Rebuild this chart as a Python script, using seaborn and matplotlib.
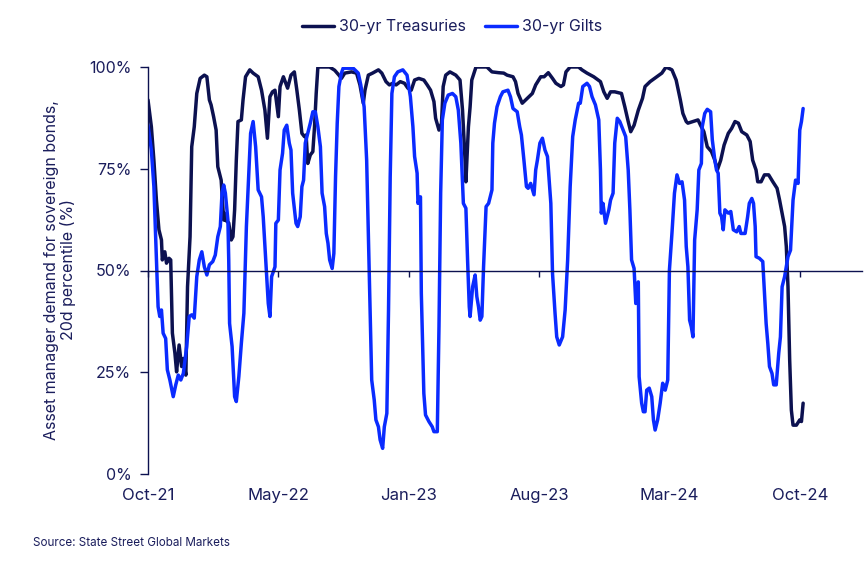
import matplotlib
matplotlib.use("Agg")
import matplotlib.pyplot as plt
import seaborn as sns
import pandas as pd

# Trading-day index (from Oct-21) and 20d percentile values (%)
tsy_day = [0, 4, 7, 10, 13, 16, 17, 20, 22, 25, 27, 29, 32, 34, 37, 40, 42, 45, 47, 50,
           52, 55, 58, 62, 67, 70, 73, 75, 78, 81, 83, 87, 90, 91, 92, 96, 99, 101, 103, 105,
           107, 111, 113, 116, 121, 125, 131, 135, 139, 142, 145, 148, 151, 155, 157, 161, 166, 170, 174, 177,
           180, 183, 186, 188, 190, 193, 196, 198, 200, 202, 216, 222, 227, 230, 234, 242, 248, 252, 256, 258,
           262, 267, 274, 278, 283, 287, 291, 295, 300, 305, 309, 313, 317, 322, 328, 332, 336, 340, 342, 346,
           349, 351, 354, 359, 366, 371, 374, 377, 378, 381, 383, 385, 390, 403, 409, 417, 423, 427, 434, 437,
           440, 445, 451, 457, 461, 467, 471, 476, 481, 485, 491, 494, 497, 502, 512, 516, 522, 530, 538, 542,
           546, 550, 555, 563, 567, 571, 574, 578, 583, 588, 591, 597, 605, 611, 616, 623, 628, 633, 636, 640,
           642, 648, 654, 657, 661, 665, 670, 674, 677, 681, 685, 690, 694, 698, 702, 706, 712, 716, 719, 723,
           725, 729, 733, 738, 743, 748, 751, 754, 757, 759, 761, 763, 765, 767, 771, 775, 777, 779]
tsy_val = [91.9, 85.3, 77.1, 67.3, 60, 57.5, 52.6, 54.6, 51.8, 53, 52.6, 34.6, 29.7, 25.1, 31.7, 26.4, 28.4, 24.3, 46, 58.3,
           80.4, 85.3, 93.5, 97.2, 98, 97.6, 91.9, 90.7, 87.8, 84.5, 75.5, 72.2, 62.4, 64.1, 62.4, 61.7, 57.5, 58.3, 64.9, 77.1,
           86.6, 87, 91.9, 97.6, 99.3, 98.5, 97.6, 94.3, 89.4, 82.5, 92.7, 93.9, 94.3, 87.8, 95.2, 97.6, 94.8, 98, 98.8, 94.3,
           89.4, 83.7, 82.9, 83.3, 76.3, 78.4, 79.2, 85.3, 93.5, 100, 100, 99.2, 98, 97.2, 98.5, 98.8, 98.5, 95.6, 91.1, 94.3,
           98, 98.5, 99.3, 98.5, 96.4, 95.6, 96, 95.6, 96.4, 96, 94.8, 94.3, 96.8, 97.2, 96.8, 95.6, 94.3, 91.5, 87.4, 84.5,
           86.2, 95.2, 98, 98.8, 98, 96.8, 89.4, 77.1, 71.8, 85.3, 90.2, 96.8, 100, 100, 98.8, 98.6, 98.5, 98, 97.6, 96.4,
           93.5, 91.1, 92.3, 93.5, 95.6, 97.6, 97.6, 98.6, 97.2, 96, 95.2, 95.6, 98.8, 100, 100, 99.3, 98.5, 97.6, 96.4, 93.9,
           92.3, 93.9, 93.9, 93.5, 90.2, 86.6, 84.1, 85.7, 89.4, 92.3, 95.2, 96.4, 97.6, 98.5, 100, 99.3, 96.8, 91.9, 88.6, 86.6,
           86.2, 86.6, 87, 85.7, 84.1, 80.4, 79.2, 77.1, 74.7, 77.1, 80.8, 83.7, 84.9, 86.6, 86.2, 84.1, 83.3, 81.7, 77.1, 74.7,
           71.8, 71.8, 73.5, 73.5, 71.8, 70.2, 67.3, 64.1, 60.8, 55.9, 46, 28, 15.7, 12, 12, 13.3, 12.9, 17.4]

gilt_day = [0, 4, 7, 10, 12, 14, 16, 18, 21, 23, 26, 30, 33, 36, 39, 42, 46, 49, 52, 55,
            58, 61, 64, 67, 70, 73, 77, 80, 83, 86, 88, 90, 92, 95, 96, 97, 100, 103, 105, 108,
            111, 114, 117, 120, 122, 125, 128, 131, 135, 137, 140, 143, 145, 147, 151, 152, 155, 157, 160, 162,
            165, 168, 170, 172, 176, 178, 181, 183, 185, 187, 190, 193, 196, 199, 202, 205, 207, 210, 212, 214,
            216, 219, 221, 223, 225, 227, 230, 232, 244, 250, 253, 257, 260, 262, 264, 266, 269, 271, 274, 276,
            279, 281, 284, 286, 288, 290, 293, 297, 303, 308, 312, 315, 317, 320, 321, 324, 325, 328, 330, 334,
            338, 340, 344, 346, 348, 350, 353, 357, 362, 366, 369, 372, 375, 378, 380, 382, 383, 386, 389, 391,
            393, 395, 397, 399, 402, 405, 409, 410, 412, 415, 419, 422, 428, 431, 434, 439, 442, 444, 447, 450,
            452, 455, 459, 461, 463, 466, 469, 472, 475, 479, 481, 484, 486, 489, 493, 496, 499, 502, 505, 508,
            512, 514, 517, 522, 525, 528, 532, 536, 538, 539, 541, 544, 548, 550, 553, 555, 558, 561, 565, 568,
            571, 573, 575, 578, 580, 583, 584, 587, 589, 591, 593, 596, 599, 601, 603, 606, 609, 612, 615, 618,
            620, 623, 626, 629, 632, 635, 638, 640, 642, 644, 646, 648, 650, 653, 655, 658, 659, 662, 665, 669,
            671, 674, 676, 678, 680, 682, 684, 686, 690, 693, 696, 700, 703, 705, 710, 713, 715, 718, 720, 722,
            723, 727, 731, 733, 735, 737, 739, 742, 744, 747, 750, 752, 754, 757, 761, 764, 767, 770, 773, 775,
            777, 779]
gilt_val = [85.7, 79.6, 70.6, 52.6, 41.1, 38.7, 40.3, 34.6, 33.3, 25.6, 23.1, 19, 21.9, 24.3, 23.1, 24.7, 31.3, 38.7, 39.1, 38.3,
            48.5, 52.6, 54.6, 50.9, 48.9, 51.4, 52.2, 53.8, 58.3, 60.8, 69, 71, 69, 62.4, 52.6, 37, 31.3, 19, 17.8, 23.9,
            32.1, 39.5, 60.8, 74.7, 83.7, 86.6, 80.4, 69.8, 68.1, 63.2, 52.6, 41.9, 38.7, 48.5, 50.9, 61.6, 62.4, 74.7, 78.8, 84.5,
            85.7, 81.3, 79.6, 69, 61.6, 60.8, 63.2, 70.6, 72.2, 81.3, 83.7, 86.2, 89, 89, 85.3, 80.4, 69, 65.7, 59.1, 56.7,
            52.6, 50.5, 54.2, 73, 86.2, 95.2, 98.5, 99.7, 99.7, 98.5, 95.6, 90.2, 77.1, 59.1, 40.3, 23.1, 18.2, 13.3, 11.6, 8.4,
            6.3, 11.6, 14.9, 40.3, 73, 93.5, 97.6, 98.8, 99.3, 98, 92.7, 85.3, 78, 73.9, 66.5, 68.1, 44.4, 19.8, 14.5, 12.9,
            11.6, 10.4, 10.4, 36.2, 69, 87, 91.1, 93.1, 93.5, 92.7, 89.4, 81.3, 66.5, 65.3, 52.6, 41.1, 38.7, 46, 48.9, 43.6,
            41.1, 37.8, 38.7, 50.9, 65.7, 66.5, 69.8, 81.3, 86.2, 90.2, 92.7, 93.9, 94.3, 92.7, 89.8, 89, 85.3, 83.3, 77.1, 70.6,
            70.2, 71.4, 68.6, 74.7, 77.1, 81.3, 82.5, 79.6, 78, 66.5, 49.3, 39.5, 33.7, 31.7, 33.7, 40.3, 52.6, 70.6, 82.9, 87,
            91.1, 91.1, 95.2, 96, 95.2, 92.7, 90.7, 87, 74.7, 64.1, 66.5, 61.6, 64.9, 67.3, 69, 81.3, 87.4, 86.6, 84.5, 82.9,
            74.7, 64.9, 52.6, 50.5, 41.9, 47.2, 23.9, 17.4, 15.3, 15.3, 20.6, 21.1, 19, 13.3, 10.8, 13.3, 17.4, 22.3, 20.6, 23.1,
            50.1, 59.1, 69, 73.5, 71.4, 71.8, 67.3, 55.9, 50.9, 37.8, 36.2, 33.7, 57.5, 64.9, 74.7, 76.3, 85.3, 88.6, 89.6, 89,
            82.1, 77.1, 74.7, 73.9, 64.1, 63.2, 60, 64.9, 64.1, 64.5, 60, 59.5, 60.8, 59.1, 59.1, 63.2, 66.5, 67.7, 66.5, 60.8,
            53.4, 53, 52.2, 44.4, 37, 32.1, 26.4, 24.7, 21.9, 21.9, 29.7, 33.7, 46, 48.5, 53.4, 55, 67.3, 72.2, 71.4, 84.5,
            86.6, 89.8]

tick_days = [0, 155, 310, 465, 620, 775]
tick_labels = ["Oct-21", "May-22", "Jan-23", "Aug-23", "Mar-24", "Oct-24"]
series_names = ["30-yr Treasuries", "30-yr Gilts"]

NAVY = "#0c1150"
BLUE = "#0a2bff"
TEXT = "#1a1d5c"

sns.set_theme(style="white")
plt.rcParams["font.family"] = ["Inter", "DejaVu Sans"]

tsy = pd.DataFrame({"day": tsy_day, "value": tsy_val})
gilt = pd.DataFrame({"day": gilt_day, "value": gilt_val})

fig = plt.figure(figsize=(8.64, 5.71), dpi=100)
ax = fig.add_axes([148 / 864, 1 - 474 / 571, (862 - 148) / 864, (474 - 67) / 571])

sns.lineplot(data=tsy, x="day", y="value", ax=ax, color=NAVY, lw=2.5, label=series_names[0])
sns.lineplot(data=gilt, x="day", y="value", ax=ax, color=BLUE, lw=2.5, label=series_names[1])

ax.set_xlim(0, 849)
ax.set_ylim(0, 100)
ax.set_xlabel("")
ax.set_ylabel("")

for s in ["top", "right"]:
    ax.spines[s].set_visible(False)
ax.spines["left"].set_color(NAVY)
ax.spines["left"].set_linewidth(1.0)
ax.spines["bottom"].set_position(("data", 50))
ax.spines["bottom"].set_color(NAVY)
ax.spines["bottom"].set_linewidth(1.0)

ax.set_yticks([0, 25, 50, 75, 100])
ax.set_yticklabels([f"{v}%" for v in [0, 25, 50, 75, 100]])
ax.tick_params(axis="y", direction="out", length=6, width=1, color=NAVY,
               labelcolor=TEXT, labelsize=11.5, pad=6, left=True)
ax.set_xticks(tick_days)
ax.tick_params(axis="x", direction="out", length=4, width=1, color=NAVY,
               labelbottom=False, bottom=True)

sec = ax.secondary_xaxis(0)
sec.set_xticks(tick_days)
sec.set_xticklabels(tick_labels)
sec.tick_params(axis="x", length=0, pad=10, labelcolor=TEXT, labelsize=12)
sec.spines["bottom"].set_visible(False)

fig.text(60 / 864, 1 - 270 / 571,
         "Asset manager demand for sovereign bonds,\n20d percentile (%)",
         rotation=90, ha="center", va="center", multialignment="center",
         color=TEXT, fontsize=11.5, linespacing=1.1)

ax.legend(loc="center", bbox_to_anchor=(452 / 864, 1 - 27 / 571),
          bbox_transform=fig.transFigure, ncol=2, frameon=False,
          fontsize=11.5, handlelength=2.0, handletextpad=0.3, columnspacing=1.2,
          labelcolor=TEXT)

fig.text(33 / 864, 1 - 543 / 571, "Source: State Street Global Markets",
         ha="left", va="center", color=TEXT, fontsize=8.4)

fig.savefig("out.png", dpi=100)
